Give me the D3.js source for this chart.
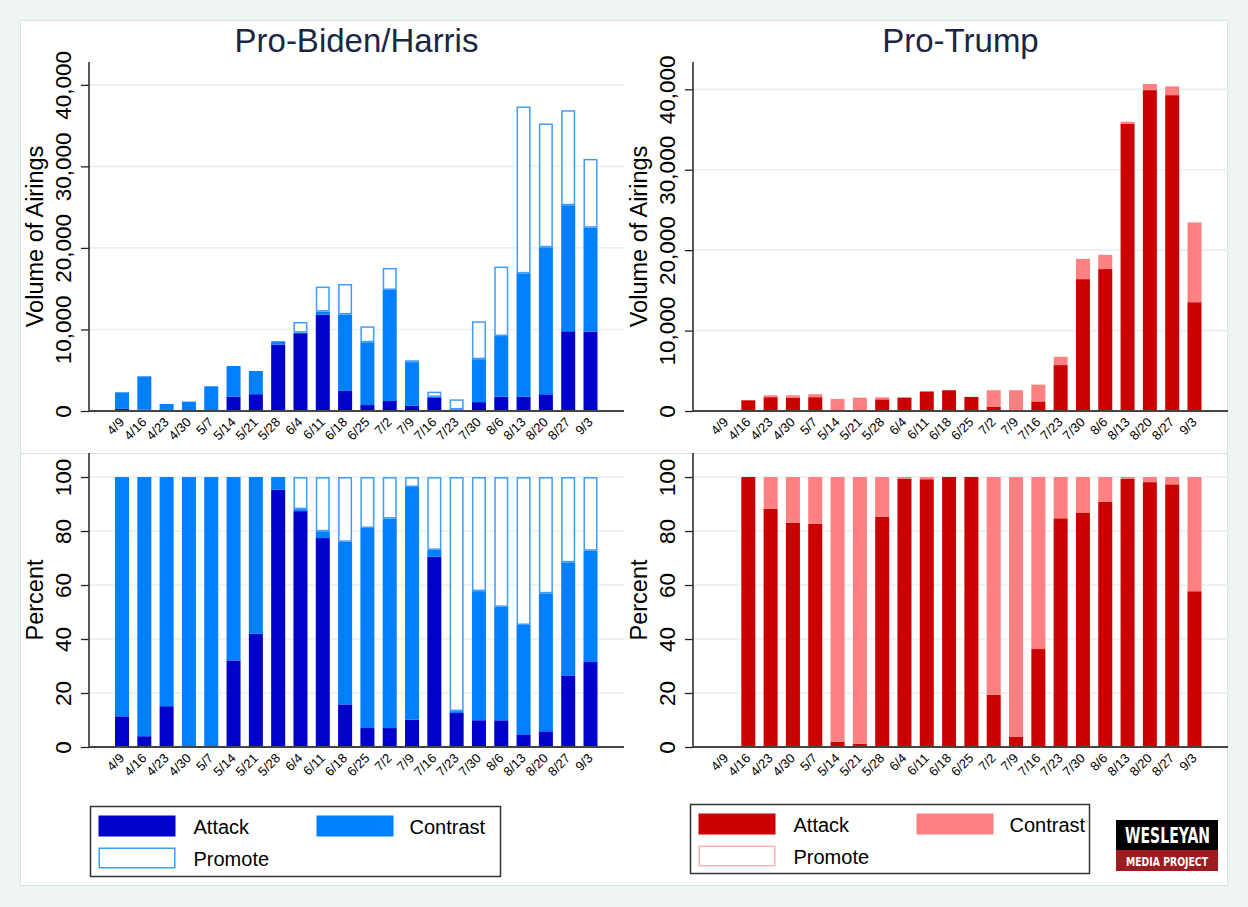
<!DOCTYPE html>
<html>
<head>
<meta charset="utf-8">
<script src="https://cdn.jsdelivr.net/npm/d3@7"></script>
<style>
  html, body { margin: 0; padding: 0; background: #eef3f4; }
  svg { display: block; }
  text { font-family: "Liberation Sans", Arial, sans-serif; }
</style>
</head>
<body>
<svg id="chart" width="1248" height="907"></svg>
<script>
// ---------------- DATA ----------------
const weeks = ["4/9","4/16","4/23","4/30","5/7","5/14","5/21","5/28","6/4","6/11","6/18","6/25",
               "7/2","7/9","7/16","7/23","7/30","8/6","8/13","8/20","8/27","9/3"];

const bidenAttack   = [260,170,130,0,0,1770,2060,8150,9540,11810,2460,730,1230,630,1670,180,1090,1750,1750,2050,9780,9740];
const bidenContrast = [2030,4080,730,1150,3030,3750,2850,400,80,380,9380,7700,13620,5360,60,10,5260,7440,15130,18020,15450,12740];
const bidenPromote  = [0,0,0,0,0,0,0,0,1300,3070,3740,1960,2700,230,640,1240,4650,8520,20460,15190,11660,8440];

const trumpAttack   = [0,1330,1720,1620,1720,30,20,1450,1670,2430,2580,1750,500,100,1190,5710,16400,17650,35720,39900,39280,13530];
const trumpContrast = [0,0,230,330,360,1470,1640,250,10,20,0,0,2080,2480,2090,1030,2520,1770,250,770,1090,9920];
const trumpPromote  = [0,0,0,0,0,0,0,0,0,0,0,0,0,0,0,0,0,0,0,0,0,0];

const volumeTicks  = [0,10000,20000,30000,40000];
const percentTicks = [0,20,40,60,80,100];
const panelTitles  = ["Pro-Biden/Harris","Pro-Trump"];
const legendLabels = ["Attack","Contrast","Promote"];

const bidenColors = { attack: "#0000cc", contrast: "#0080ff", promote: "#ffffff", promoteStroke: "#3f9cff" };
const trumpColors = { attack: "#cc0000", contrast: "#ff8080", promote: "#ffffff", promoteStroke: "#ffb3b3" };

// ---------------- CHART ----------------
const svg = d3.select("#chart");
const keys = ["attack","contrast","promote"];

svg.append("rect").attr("x",20.5).attr("y",20.5).attr("width",1207).attr("height",865)
  .attr("fill","#ffffff").attr("stroke","#dce1e2").attr("stroke-width",1);
svg.append("line").attr("x1",20).attr("x2",1228).attr("y1",453.5).attr("y2",453.5)
  .attr("stroke","#dde1e2").attr("stroke-width",1);

function buildRows(a, c, p) {
  return weeks.map((w,i) => ({ week: w, attack: a[i], contrast: c[i], promote: p[i] }));
}
function toPercent(rows) {
  return rows.map(r => {
    const t = r.attack + r.contrast + r.promote;
    if (t === 0) return { week: r.week, attack: 0, contrast: 0, promote: 0 };
    return { week: r.week, attack: 100*r.attack/t, contrast: 100*r.contrast/t, promote: 100*r.promote/t };
  });
}

function drawPanel(opt) {
  const off = opt.off;
  const axisX = 89 + off, plotRight = 624 + off;
  const g = svg.append("g");
  const x = d3.scaleBand().domain(weeks).range([110.85 + off, 601.65 + off])
    .paddingInner(0.372).paddingOuter(0.186);
  const y = d3.scaleLinear().domain([0, opt.max]).range([opt.base, opt.top]);

  g.selectAll("line.grid").data(opt.ticks.filter(t => t > 0)).join("line")
    .attr("x1", axisX).attr("x2", plotRight)
    .attr("y1", d => y(d)).attr("y2", d => y(d))
    .attr("stroke", "#e8f0f2").attr("stroke-width", 1.6);

  const stacked = d3.stack().keys(keys)(opt.rows);
  stacked.forEach(layer => {
    const k = layer.key;
    const p = k === "promote";
    g.append("g").selectAll("rect").data(layer.filter(d => d[1] - d[0] > 0)).join("rect")
      .attr("x", d => x(d.data.week) + (p ? 0.75 : 0))
      .attr("width", x.bandwidth() - (p ? 1.5 : 0))
      .attr("y", d => y(d[1]) + (p ? 0.75 : 0))
      .attr("height", d => Math.max(0, y(d[0]) - y(d[1]) - (p ? 1.5 : 0)))
      .attr("fill", opt.colors[k])
      .attr("stroke", p ? opt.colors.promoteStroke : "none")
      .attr("stroke-width", p ? 1.5 : 0);
  });

  const yAxis = d3.axisLeft(y).tickValues(opt.ticks).tickSize(8).tickFormat(opt.fmt);
  const ya = g.append("g").attr("transform", `translate(${axisX},0)`).call(yAxis);
  ya.select(".domain").remove();
  ya.selectAll(".tick line").attr("stroke", "#222").attr("stroke-width", 1.3);
  ya.selectAll(".tick text")
    .attr("transform", "rotate(-90)")
    .attr("x", 0).attr("y", -18).attr("dy", 0)
    .attr("text-anchor", "middle")
    .attr("fill", "#000")
    .style("font-size", "22.5px");
  g.append("line").attr("x1", axisX).attr("x2", axisX).attr("y1", opt.top).attr("y2", opt.base)
    .attr("stroke", "#222").attr("stroke-width", 1.5);

  const xAxis = d3.axisBottom(x).tickSize(0).tickPadding(0);
  const xa = g.append("g").attr("transform", `translate(0,${opt.base})`).call(xAxis);
  xa.select(".domain").remove();
  xa.selectAll(".tick text")
    .attr("transform", "translate(3,12) rotate(-45)")
    .attr("x", 0).attr("y", 0).attr("dy", 0)
    .attr("text-anchor", "end")
    .attr("fill", "#000")
    .style("font-size", "13px");
  g.append("line").attr("x1", axisX).attr("x2", plotRight).attr("y1", opt.base).attr("y2", opt.base)
    .attr("stroke", "#444").attr("stroke-width", 2);

  g.append("text")
    .attr("transform", `translate(${43 + off},${(opt.top + opt.base) / 2}) rotate(-90)`)
    .attr("text-anchor", "middle").style("font-size", "23.5px").attr("fill", "#000")
    .text(opt.yTitle);

  if (opt.title) {
    g.append("text").attr("x", (axisX + plotRight) / 2).attr("y", 52)
      .attr("text-anchor", "middle").style("font-size", "33px").attr("fill", "#1a2744")
      .text(opt.title);
  }
}

const volFmt = d3.format(",");
const pctFmt = d3.format("d");
const bidenRows = buildRows(bidenAttack, bidenContrast, bidenPromote);
const trumpRows = buildRows(trumpAttack, trumpContrast, trumpPromote);

drawPanel({ off: 0, rows: bidenRows, colors: bidenColors, max: 42800, top: 62, base: 411,
            ticks: volumeTicks, fmt: volFmt, yTitle: "Volume of Airings", title: panelTitles[0] });
drawPanel({ off: 604, rows: trumpRows, colors: trumpColors, max: 43400, top: 62, base: 411,
            ticks: volumeTicks, fmt: volFmt, yTitle: "Volume of Airings", title: panelTitles[1] });
drawPanel({ off: 0, rows: toPercent(bidenRows), colors: bidenColors, max: 108.9, top: 453, base: 747,
            ticks: percentTicks, fmt: pctFmt, yTitle: "Percent" });
drawPanel({ off: 604, rows: toPercent(trumpRows), colors: trumpColors, max: 108.9, top: 453, base: 747,
            ticks: percentTicks, fmt: pctFmt, yTitle: "Percent" });

// ---------------- LEGENDS ----------------
function drawLegend(L, colors) {
  const g = svg.append("g");
  g.append("rect").attr("x", L.x).attr("y", L.y).attr("width", L.w).attr("height", L.h)
    .attr("fill", "#fff").attr("stroke", "#333").attr("stroke-width", 1.5);
  const items = [
    { key: "attack",   sx: L.x + 8,   sy: L.y + 9,  tx: L.x + 103 },
    { key: "contrast", sx: L.x + 226, sy: L.y + 9,  tx: L.x + 319 },
    { key: "promote",  sx: L.x + 8,   sy: L.y + 41, tx: L.x + 103 }
  ];
  items.forEach((it, i) => {
    const isP = it.key === "promote";
    g.append("rect").attr("x", it.sx + (isP ? 0.75 : 0)).attr("y", it.sy + (isP ? 0.75 : 0))
      .attr("width", 77 - (isP ? 1.5 : 0)).attr("height", 21 - (isP ? 1.5 : 0))
      .attr("fill", colors[it.key])
      .attr("stroke", isP ? colors.promoteStroke : "none").attr("stroke-width", 1.5);
    g.append("text").attr("x", it.tx).attr("y", it.sy + 18)
      .style("font-size", "20px").attr("fill", "#000").text(legendLabels[i]);
  });
}
drawLegend({ x: 90.5, y: 806.5, w: 410, h: 70 }, bidenColors);
drawLegend({ x: 690.5, y: 804.5, w: 399, h: 69 }, trumpColors);

// ---------------- LOGO ----------------
const logo = svg.append("g");
logo.append("rect").attr("x", 1116).attr("y", 820).attr("width", 102).attr("height", 31).attr("fill", "#000");
logo.append("rect").attr("x", 1116).attr("y", 850).attr("width", 102).attr("height", 21).attr("fill", "#9e1b20");
logo.append("text").attr("x", 1125).attr("y", 843).attr("textLength", 85).attr("lengthAdjust", "spacingAndGlyphs")
  .style("font-family", "'Liberation Sans Narrow','DejaVu Sans Condensed','Liberation Sans',sans-serif")
  .style("font-weight", "bold").style("font-size", "21px").attr("fill", "#fff").text("WESLEYAN");
logo.append("text").attr("x", 1126).attr("y", 865.5).attr("textLength", 82).attr("lengthAdjust", "spacingAndGlyphs")
  .style("font-family", "'Liberation Sans Narrow','DejaVu Sans Condensed','Liberation Sans',sans-serif")
  .style("font-weight", "bold").style("font-size", "12px").attr("fill", "#fff").text("MEDIA PROJECT");
</script>
</body>
</html>
